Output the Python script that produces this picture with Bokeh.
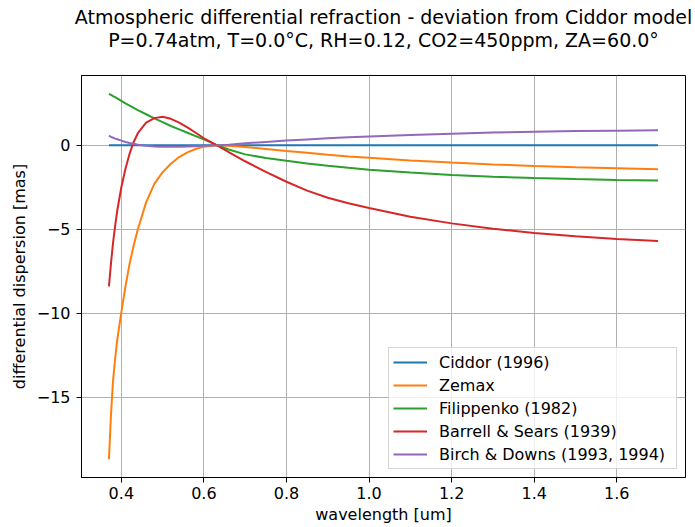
from bokeh.plotting import figure
from bokeh.models import FixedTicker, Range1d, Legend, LegendItem, Title, PrintfTickFormatter
from bokeh.embed import file_html
from bokeh.resources import INLINE

# ---- data ----
wavelength = [0.37, 0.375, 0.38, 0.385, 0.39, 0.40, 0.41, 0.42, 0.43, 0.44, 0.46, 0.48,
              0.50, 0.52, 0.54, 0.56, 0.58, 0.60, 0.632, 0.66, 0.70, 0.75, 0.80,
              0.85, 0.90, 0.95, 1.0, 1.1, 1.2, 1.3, 1.4, 1.5, 1.6, 1.7]

ciddor = [0.0, 0.0, 0.0, 0.0, 0.0, 0.0, 0.0, 0.0, 0.0, 0.0, 0.0, 0.0,
          0.0, 0.0, 0.0, 0.0, 0.0, 0.0, 0.0, 0.0, 0.0, 0.0, 0.0,
          0.0, 0.0, 0.0, 0.0, 0.0, 0.0, 0.0, 0.0, 0.0, 0.0, 0.0]

zemax = [-18.7, -16.0, -14.0, -12.7, -11.6, -9.95, -8.4, -7.05, -5.95, -5.0, -3.4, -2.3,
         -1.6, -1.1, -0.7, -0.42, -0.22, -0.08, 0.0, -0.02, -0.1, -0.22, -0.34,
         -0.45, -0.56, -0.66, -0.74, -0.9, -1.03, -1.14, -1.23, -1.31, -1.37, -1.43]

filippenko = [3.07, 3.0, 2.93, 2.87, 2.8, 2.65, 2.5, 2.37, 2.23, 2.1, 1.85, 1.6,
              1.38, 1.15, 0.95, 0.75, 0.55, 0.35, 0.0, -0.25, -0.54, -0.75, -0.92,
              -1.08, -1.22, -1.34, -1.45, -1.62, -1.77, -1.87, -1.95, -2.01, -2.06, -2.09]

barrell_sears = [-8.4, -7.0, -5.8, -4.8, -3.9, -2.5, -1.4, -0.5, 0.2, 0.72, 1.35, 1.62,
                 1.7, 1.58, 1.35, 1.07, 0.75, 0.42, 0.0, -0.4, -0.95, -1.58, -2.17,
                 -2.7, -3.12, -3.45, -3.74, -4.25, -4.65, -4.97, -5.22, -5.42, -5.58, -5.7]

birch_downs = [0.57, 0.5, 0.45, 0.4, 0.36, 0.28, 0.2, 0.14, 0.09, 0.04, -0.03, -0.07,
               -0.08, -0.08, -0.08, -0.07, -0.05, -0.03, 0.0, 0.04, 0.12, 0.2, 0.28,
               0.35, 0.42, 0.48, 0.53, 0.62, 0.69, 0.76, 0.81, 0.85, 0.87, 0.89]

series_names = ["Ciddor (1996)", "Zemax", "Filippenko (1982)",
                "Barrell & Sears (1939)", "Birch & Downs (1993, 1994)"]
series_values = [ciddor, zemax, filippenko, barrell_sears, birch_downs]
series_colors = ["#1f77b4", "#ff7f0e", "#2ca02c", "#d62728", "#9467bd"]

x_ticks = [0.4, 0.6, 0.8, 1.0, 1.2, 1.4, 1.6]
y_ticks = [-15, -10, -5, 0]
y_tick_labels = ["\u221215", "\u221210", "\u22125", "0"]

title_line1 = "Atmospheric differential refraction - deviation from Ciddor model"
title_line2 = "P=0.74atm, T=0.0\u00b0C, RH=0.12, CO2=450ppm, ZA=60.0\u00b0"
x_label = "wavelength [um]"
y_label = "differential dispersion [mas]"

FONT = "DejaVu Sans"
TXT = "black"

# ---- ranges with matplotlib-like 5% margins ----
xmin, xmax = min(wavelength), max(wavelength)
all_y = [v for s in series_values for v in s]
ymin, ymax = min(all_y), max(all_y)
dx = (xmax - xmin) * 0.05
dy = (ymax - ymin) * 0.05

p = figure(width=695, height=527, output_backend="svg", toolbar_location=None,
           x_range=Range1d(xmin - dx, xmax + dx), y_range=Range1d(ymin - dy, ymax + dy),
           min_border_left=81, min_border_right=10, min_border_top=75, min_border_bottom=50,
           title=None)
p.background_fill_color = "white"
p.border_fill_color = "white"
p.outline_line_color = "black"
p.outline_line_width = 1
p.outline_line_alpha = 1.0

# titles (line 2 first: closest to the frame)
p.add_layout(Title(text=title_line2, align="center", text_font=FONT, text_font_size="19px",
                   text_font_style="normal", text_color=TXT, standoff=49), "above")
p.add_layout(Title(text=title_line1, align="center", text_font=FONT, text_font_size="19px",
                   text_font_style="normal", text_color=TXT, standoff=-50), "above")

renderers = []
for vals, col in zip(series_values, series_colors):
    r = p.line(wavelength, vals, line_color=col, line_width=2)
    renderers.append(r)

# axes
p.xaxis.ticker = FixedTicker(ticks=x_ticks)
p.xaxis.formatter = PrintfTickFormatter(format="%.1f")
p.yaxis.ticker = FixedTicker(ticks=y_ticks)
p.yaxis.major_label_overrides = dict(zip(y_ticks, y_tick_labels))
for ax in [p.xaxis, p.yaxis]:
    ax.minor_tick_line_color = None
    ax.major_tick_in = 0
    ax.major_tick_out = 5
    ax.major_tick_line_color = "black"
    ax.axis_line_color = "black"
    ax.major_label_text_font = FONT
    ax.major_label_text_font_size = "16px"
    ax.major_label_text_color = TXT
    ax.axis_label_text_font = FONT
    ax.axis_label_text_font_size = "16px"
    ax.axis_label_text_font_style = "normal"
    ax.axis_label_text_color = TXT
p.xaxis.axis_label = x_label
p.yaxis.axis_label = y_label
p.xaxis.major_label_standoff = 4
p.xaxis.axis_label_standoff = 3
p.yaxis.major_label_standoff = 6
p.yaxis.axis_label_standoff = 5

p.grid.grid_line_color = "#b0b0b0"
p.grid.grid_line_width = 1

legend = Legend(items=[LegendItem(label=n, renderers=[r]) for n, r in zip(series_names, renderers)],
                location="bottom_right", margin=8, padding=4, spacing=3,
                glyph_width=34, glyph_height=20, label_height=20, label_standoff=12,
                label_width=233,
                label_text_font=FONT, label_text_font_size="16px", label_text_color=TXT,
                border_line_color="#cccccc", border_line_width=1, border_line_alpha=0.8,
                background_fill_color="white", background_fill_alpha=0.8)
p.add_layout(legend)

open("out.html", "w").write(file_html(p, INLINE))
